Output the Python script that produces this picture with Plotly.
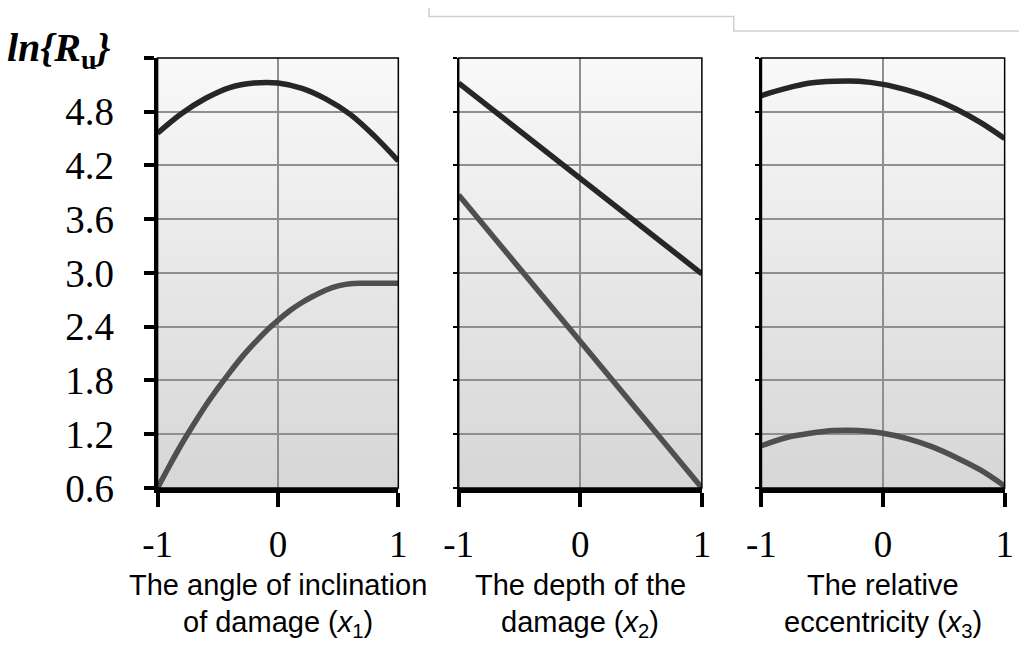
import plotly.graph_objects as go

# ---------------- data ----------------
x_vals = [-1.0, -0.8, -0.6, -0.4, -0.2, 0.0, 0.2, 0.4, 0.6, 0.8, 1.0]

p1_upper = [4.56, 4.78, 4.95, 5.07, 5.12, 5.12, 5.06, 4.94, 4.77, 4.53, 4.25]

p1_lower_x = [-1.0, -0.9, -0.8, -0.7, -0.6, -0.5, -0.4, -0.3, -0.2, -0.1, 0.0,
              0.1, 0.2, 0.3, 0.4, 0.5, 0.6, 0.7, 0.8, 0.9, 1.0]
p1_lower = [0.60, 0.85, 1.09, 1.31, 1.52, 1.71, 1.89, 2.06, 2.21, 2.35, 2.47,
            2.58, 2.67, 2.745, 2.81, 2.855, 2.88, 2.885, 2.885, 2.885, 2.885]

p2_x = [-1.0, 1.0]
p2_upper = [5.12, 2.99]
p2_lower = [3.87, 0.60]

p3_upper = [4.98, 5.06, 5.12, 5.14, 5.14, 5.105, 5.04, 4.95, 4.83, 4.68, 4.50]
p3_lower = [1.07, 1.16, 1.21, 1.24, 1.24, 1.21, 1.15, 1.06, 0.94, 0.80, 0.62]

x_ticks = [-1, 0, 1]
x_tick_labels = ["-1", "0", "1"]
y_ticks = [0.6, 1.2, 1.8, 2.4, 3.0, 3.6, 4.2, 4.8, 5.4]
y_tick_labels = ["0.6", "1.2", "1.8", "2.4", "3.0", "3.6", "4.2", "4.8", ""]

panel_titles = [
    ["The angle of inclination", "of damage (<i>x</i><sub>1</sub>)"],
    ["The depth of the", "damage (<i>x</i><sub>2</sub>)"],
    ["The relative", "eccentricity (<i>x</i><sub>3</sub>)"],
]
y_title = "<b><i>ln{R</i><sub>u</sub><i>}</i></b>"

# ---------------- layout geometry ----------------
W, H = 1028, 649
x_domains = [[146 / W, 392.5 / W], [454.3 / W, 703.3 / W], [764.3 / W, 1013.3 / W]]
y_domain = [1 - 505 / H, 1 - 60 / H]

UPPER_COLOR = "#262626"
LOWER_COLOR = "#4f4f4f"
LINE_W = 5.5

fig = go.Figure()

series = [
    [(x_vals, p1_upper, UPPER_COLOR), (p1_lower_x, p1_lower, LOWER_COLOR)],
    [(p2_x, p2_upper, UPPER_COLOR), (p2_x, p2_lower, LOWER_COLOR)],
    [(x_vals, p3_upper, UPPER_COLOR), (x_vals, p3_lower, LOWER_COLOR)],
]

for i, panel in enumerate(series):
    xa = "x" if i == 0 else f"x{i+1}"
    ya = "y" if i == 0 else f"y{i+1}"
    for xs, ys, col in panel:
        fig.add_trace(go.Scatter(
            x=xs, y=ys, mode="lines", xaxis=xa, yaxis=ya,
            line=dict(color=col, width=LINE_W, shape="spline", smoothing=1.0),
            hoverinfo="skip", showlegend=False,
        ))

layout = dict(
    width=W, height=H,
    margin=dict(l=0, r=0, t=0, b=0),
    paper_bgcolor="white",
    plot_bgcolor="rgba(0,0,0,0)",
    showlegend=False,
)

for i in range(3):
    sfx = "" if i == 0 else str(i + 1)
    layout["xaxis" + sfx] = dict(
        domain=x_domains[i], range=[-1, 1], anchor="y" + sfx,
        tickvals=x_ticks, ticktext=x_tick_labels,
        showgrid=True, gridcolor="#8f8f8f", gridwidth=1.5,
        zeroline=False,
        showline=True, linecolor="black", linewidth=5,
        ticks="outside", ticklen=14, tickwidth=3.5, tickcolor="black",
        tickfont=dict(family="Liberation Serif", size=37, color="black"),
        ticklabelstandoff=6,
        fixedrange=True,
    )
    ydict = dict(
        domain=y_domain, range=[0.6, 5.4], anchor="x" + sfx,
        tickvals=y_ticks, ticktext=y_tick_labels,
        showgrid=True, gridcolor="#8f8f8f", gridwidth=1.5,
        zeroline=False,
        showline=True, linecolor="black",
        ticks="outside", tickcolor="black",
        fixedrange=True,
    )
    if i == 0:
        ydict.update(linewidth=3.5, ticklen=10, tickwidth=3.5,
                     showticklabels=True,
                     tickfont=dict(family="Liberation Serif", size=39, color="black"),
                     ticklabelstandoff=22)
    else:
        ydict.update(linewidth=2, ticklen=4, tickwidth=1.5, showticklabels=False)
    layout["yaxis" + sfx] = ydict

fig.update_layout(**layout)

# gradient background strips and thin frame for each panel
N = 60
top_c, bot_c = 249, 214
for i in range(3):
    sfx = "" if i == 0 else str(i + 1)
    for k in range(N):
        t = (k + 0.5) / N
        v = int(round(bot_c + (top_c - bot_c) * t))
        fig.add_shape(type="rect", xref=f"x{sfx} domain", yref=f"y{sfx} domain",
                      x0=0, x1=1, y0=k / N, y1=(k + 1) / N + 0.002,
                      fillcolor=f"rgb({v},{v},{v})", line=dict(width=0),
                      layer="below")
    fig.add_shape(type="rect", xref=f"x{sfx} domain", yref=f"y{sfx} domain",
                  x0=0, x1=1, y0=0, y1=1, line=dict(color="black", width=1.5),
                  fillcolor="rgba(0,0,0,0)", layer="above")
    for j, (line_text, yc) in enumerate(zip(panel_titles[i], [606, 646])):
        fig.add_annotation(text=line_text, xref=f"x{sfx} domain", yref="paper",
                           x=0.5, y=1 - yc / H, xanchor="center", yanchor="middle",
                           showarrow=False, align="center",
                           font=dict(family="Liberation Sans", size=29, color="black"))

# y-axis title
fig.add_annotation(text=y_title, xref="paper", yref="paper",
                   x=100 / W, y=1 - 52 / H, xanchor="right", yanchor="middle",
                   showarrow=False,
                   font=dict(family="Liberation Serif", size=40, color="black"))

# faint grey lines at the top of the picture
def px(xp, yp):
    return f"{xp / W:.5f},{1 - yp / H:.5f}"

fig.add_shape(type="path", xref="paper", yref="paper",
              path=f"M {px(424, 8)} L {px(424, 17)} L {px(736, 17)} L {px(736, 32)} L {px(1028, 32)}",
              line=dict(color="#cfcfcf", width=1.5))

fig.write_html("out.html")
